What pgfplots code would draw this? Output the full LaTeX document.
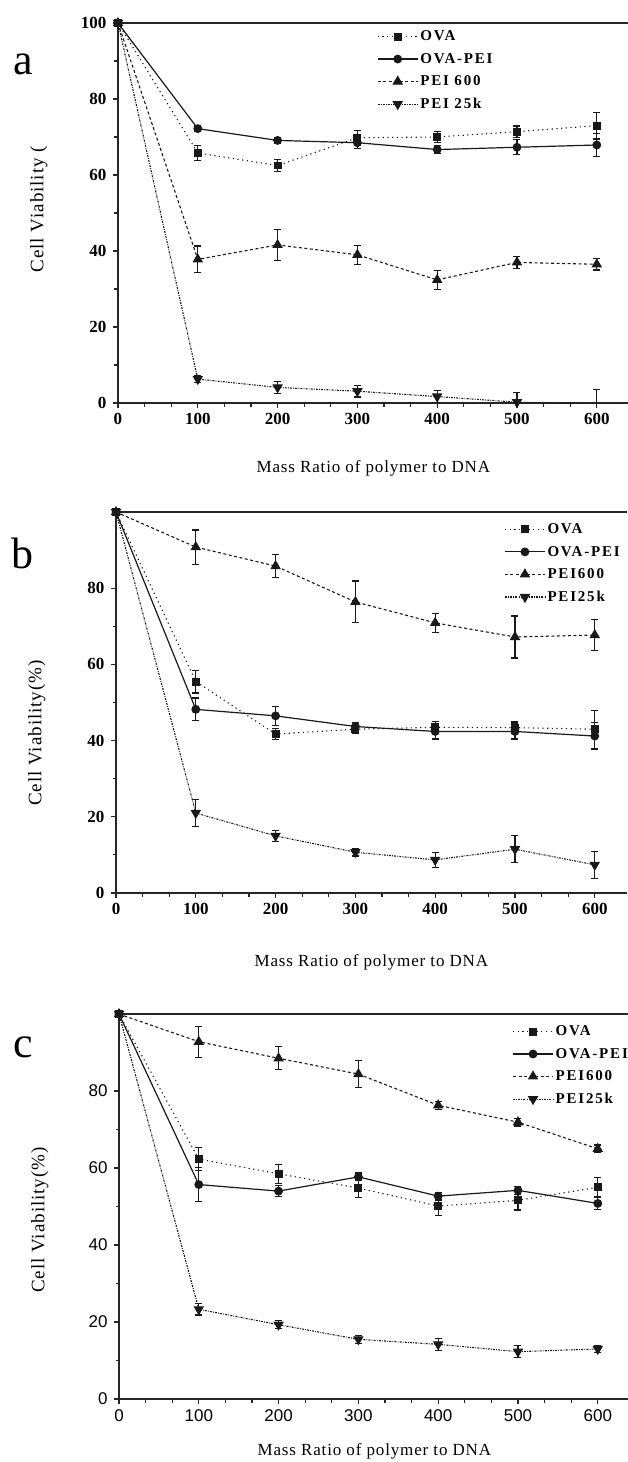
\documentclass[border=0pt]{standalone}
\usepackage{fontspec}
\setmainfont{Liberation Serif}
\newfontfamily\sansf{Liberation Sans}
\newfontfamily\legf[LetterSpace=12]{Liberation Serif}
\newfontfamily\labf[LetterSpace=5]{Liberation Serif}
\usepackage{pgfplots}
\pgfplotsset{compat=1.18}

\pgfplotsset{
  common/.style={
    scale only axis, width=510.7pt,
    xmin=0, xmax=640, ymin=0, ymax=100,
    axis x line=box, axis y line=left,
    axis line style={-, line width=1.3pt, black!85},
    xtick={0,100,...,600}, minor x tick num=2,
    ytick={0,20,...,100}, minor y tick num=1,
    tick align=outside, xtick pos=left, ytick pos=left,
    major tick length=5pt, minor tick length=3.5pt,
    tick style={line width=1.1pt, black!85},
    /pgf/number format/assume math mode=true,
    xticklabel style={yshift=-2pt},
    yticklabel style={xshift=-3pt},
    legend cell align=left,
    legend style={draw=none, fill=none, inner sep=0pt, row sep=7pt,
      font=\fontsize{15}{16}\selectfont\legf\bfseries},
    legend image code/.code={
      \draw[mark repeat=2,mark phase=2,#1] plot coordinates {(0pt,0pt) (20pt,0pt) (40pt,0pt)};
    },
    xlabel style={font=\fontsize{17}{18}\selectfont\labf},
    ylabel style={font=\fontsize{19}{20}\selectfont\labf},
  },
  ova/.style={black!90, line width=1.1pt, dash pattern=on 1.2pt off 3.5pt,
    mark=square*, mark size=3.4pt, mark options={solid}},
  ovapei/.style={black!90, line width=1.2pt, solid, mark=*, mark size=3.8pt},
  pei600/.style={black!90, line width=1.1pt, dash pattern=on 3pt off 2.5pt,
    mark=triangle*, mark size=5pt, mark options={solid}},
  pei25/.style={black!90, line width=1.1pt, dash pattern=on 2pt off 1.2pt on 0.8pt off 1.2pt,
    mark=triangle*, mark size=5pt, mark options={solid, rotate=180}},
  eb/.style={error bars/.cd, y dir=both, y explicit,
    error bar style={solid, line width=1.2pt},
    error mark options={rotate=90, mark size=3.5pt, line width=1.2pt, solid}},
}

\begin{document}
\begin{tikzpicture}
\path[use as bounding box] (0pt,0pt) rectangle (628pt,-1462pt);
\clip (0pt,0pt) rectangle (628pt,-1462pt);

\node[font=\fontsize{44}{44}\selectfont] at (23pt,-64pt) {a};
\node[font=\fontsize{44}{44}\selectfont] at (23pt,-553pt) {b};
\node[font=\fontsize{44}{44}\selectfont] at (23pt,-1047pt) {c};

% panel a
\begin{axis}[common, height=380pt, at={(118pt,-403pt)}, anchor=south west,
  ticklabel style={font=\fontsize{17}{18}\selectfont\bfseries},
  xlabel={Mass Ratio of polymer to DNA},
  ylabel={Cell Viability (},
  xlabel style={at={(axis description cs:0.5,-0.171)}, anchor=center},
  ylabel style={at={(axis description cs:-0.155,0.51)}, anchor=center},
  legend style={at={(axis description cs:0.507,0.985)}, anchor=north west},
]
\addplot[ova, eb] coordinates {
  (0,100) +- (0,0) (100,65.8) +- (0,2) (200,62.5) +- (0,1.5) (300,69.8) +- (0,2)
  (400,70) +- (0,1.5) (500,71.4) +- (0,1.5) (600,73) +- (0,3.5)};
\addlegendentry{OVA}
\addplot[ovapei, eb] coordinates {
  (0,100) +- (0,0) (100,72.2) +- (0,0.8) (200,69.1) +- (0,0.8) (300,68.5) +- (0,1.5)
  (400,66.7) +- (0,1) (500,67.3) +- (0,2) (600,67.9) +- (0,3)};
\addlegendentry{OVA-PEI}
\addplot[pei600, eb] coordinates {
  (0,100) +- (0,0) (100,37.8) +- (0,3.5) (200,41.6) +- (0,4) (300,39) +- (0,2.5)
  (400,32.4) +- (0,2.5) (500,37) +- (0,1.5) (600,36.5) +- (0,1.5)};
\addlegendentry{PEI 600}
\addplot[pei25, eb] coordinates {
  (0,100) +- (0,0) (100,6.3) +- (0,1) (200,4.1) +- (0,1.5) (300,3.1) +- (0,1.5)
  (400,1.7) +- (0,1.5) (500,0.2) +- (0,2.5) (600,-0.3) +- (0,3.8)};
\addlegendentry{PEI 25k}
\end{axis}

% panel b
\begin{axis}[common, height=381pt, at={(116pt,-893pt)}, anchor=south west,
  ytick={0,20,...,80},
  ticklabel style={font=\fontsize{17}{18}\selectfont\bfseries},
  xlabel={Mass Ratio of polymer to DNA},
  ylabel={Cell Viability(\%)},
  xlabel style={at={(axis description cs:0.5,-0.181)}, anchor=center},
  ylabel style={at={(axis description cs:-0.155,0.42)}, anchor=center},
  legend style={at={(axis description cs:0.76,0.975)}, anchor=north west},
]
\addplot[ova, eb] coordinates {
  (0,100) +- (0,0) (100,55.5) +- (0,3) (200,41.7) +- (0,1.5) (300,43) +- (0,1)
  (400,43.5) +- (0,1.5) (500,43.4) +- (0,1.5) (600,43) +- (0,5)};
\addlegendentry{OVA}
\addplot[ovapei, eb] coordinates {
  (0,100) +- (0,0) (100,48.2) +- (0,3) (200,46.5) +- (0,2.5) (300,43.7) +- (0,1)
  (400,42.4) +- (0,2) (500,42.4) +- (0,2) (600,41.2) +- (0,3.5)};
\addlegendentry{OVA-PEI}
\addplot[pei600, eb] coordinates {
  (0,100) +- (0,0) (100,90.8) +- (0,4.5) (200,85.8) +- (0,3) (300,76.4) +- (0,5.5)
  (400,70.9) +- (0,2.5) (500,67.2) +- (0,5.5) (600,67.7) +- (0,4)};
\addlegendentry{PEI600}
\addplot[pei25, eb] coordinates {
  (0,100) +- (0,0) (100,21) +- (0,3.5) (200,15) +- (0,1.5) (300,10.7) +- (0,1)
  (400,8.7) +- (0,2) (500,11.5) +- (0,3.5) (600,7.4) +- (0,3.5)};
\addlegendentry{PEI25k}
\end{axis}

% panel c
\begin{axis}[common, height=385pt, at={(119pt,-1399pt)}, anchor=south west,
  ytick={0,20,...,80},
  ticklabel style={font=\fontsize{17}{18}\selectfont\sansf},
  xlabel={Mass Ratio of polymer to DNA},
  ylabel={Cell Viability(\%)},
  xlabel style={at={(axis description cs:0.5,-0.135)}, anchor=center},
  ylabel style={at={(axis description cs:-0.155,0.465)}, anchor=center},
  legend style={at={(axis description cs:0.77,0.975)}, anchor=north west},
]
\addplot[ova, eb] coordinates {
  (0,100) +- (0,0) (100,62.3) +- (0,3) (200,58.5) +- (0,2.5) (300,54.8) +- (0,2.5)
  (400,50.1) +- (0,2.5) (500,51.6) +- (0,2.5) (600,55) +- (0,2.5)};
\addlegendentry{OVA}
\addplot[ovapei, eb] coordinates {
  (0,100) +- (0,0) (100,55.7) +- (0,4.5) (200,54) +- (0,1.5) (300,57.7) +- (0,1)
  (400,52.7) +- (0,1) (500,54.2) +- (0,1) (600,50.8) +- (0,1.5)};
\addlegendentry{OVA-PEI}
\addplot[pei600, eb] coordinates {
  (0,100) +- (0,0) (100,92.8) +- (0,4) (200,88.5) +- (0,3) (300,84.4) +- (0,3.5)
  (400,76.3) +- (0,1) (500,71.9) +- (0,1) (600,65) +- (0,1)};
\addlegendentry{PEI600}
\addplot[pei25, eb] coordinates {
  (0,100) +- (0,0) (100,23.3) +- (0,1.5) (200,19.3) +- (0,1) (300,15.5) +- (0,1)
  (400,14.2) +- (0,1.5) (500,12.3) +- (0,1.5) (600,13) +- (0,1)};
\addlegendentry{PEI25k}
\end{axis}
\end{tikzpicture}
\end{document}
